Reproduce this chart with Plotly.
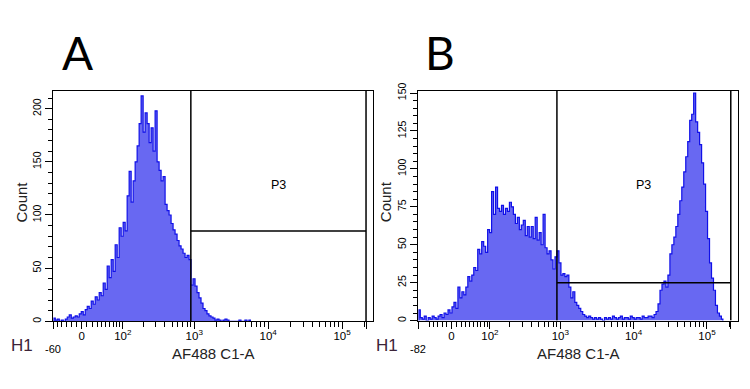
import numpy as np
import plotly.graph_objects as go

# ---------------- data ----------------
# histogram counts per display channel bin (bin width in display units below)
A_COUNTS = [3, 1, 2, 0, 1, 0, 2, 4, 6, 3, 4, 5, 4, 7, 9, 6, 11, 14, 12, 19,
            16, 23, 20, 27, 24, 36, 30, 52, 41, 58, 47, 72, 60, 88, 80, 93, 85, 118, 141, 112,
            132, 150, 165, 186, 212, 178, 196, 186, 168, 182, 160, 198, 150, 142, 132, 136, 110, 104, 100, 92,
            86, 82, 76, 71, 68, 64, 60, 62, 58, 34, 40, 33, 27, 22, 17, 12, 10, 7, 5, 4,
            3, 1, 2, 1, 0, 1, 2, 1, 0, 0, 0, 0, 0, 1, 0, 0, 1, 0, 1]
B_COUNTS = [7, 2, 1, 3, 0, 2, 1, 3, 2, 1, 3, 4, 2, 5, 4, 7, 5, 9, 12, 8,
            22, 15, 19, 17, 22, 29, 26, 30, 35, 33, 47, 44, 52, 49, 45, 60, 58, 85, 70, 88,
            74, 72, 76, 70, 74, 72, 78, 75, 70, 64, 68, 60, 63, 66, 56, 62, 55, 62, 54, 68,
            53, 58, 50, 70, 48, 44, 46, 40, 34, 42, 46, 38, 30, 31, 29, 30, 22, 15, 19, 12,
            10, 8, 6, 4, 3, 2, 3, 2, 1, 2, 1, 2, 1, 0, 2, 1, 2, 1, 3, 2,
            1, 2, 3, 1, 2, 2, 1, 3, 2, 1, 2, 2, 1, 3, 2, 2, 3, 3, 2, 4, 6,
            11, 20, 24, 26, 22, 30, 44, 50, 55, 62, 70, 79, 88, 98, 108, 118, 132, 136, 150, 131,
            124, 116, 104, 90, 72, 54, 38, 28, 20, 10, 5, 3, 1]
BIN_W = 0.027                      # display units per channel bin

X_MIN = {"A": -60, "B": -82}       # lowest displayed intensity
X_MAX = 262143                     # top of scale
GATE_LO = 900                      # P3 interval gate
GATE_HI = 211000
GATE_Y = {"A": 85, "B": 25}        # gate bar height (count)
Y_MAX = {"A": 216.6, "B": 151.3}
Y_MAJOR = {"A": [0, 50, 100, 150, 200], "B": [0, 25, 50, 75, 100, 125, 150]}
Y_MINOR_STEP = {"A": 10, "B": 5}
BIEX_W = {"A": 30, "B": 33}        # biexponential linear-width parameter
X_MAJOR = [0, 100, 1000, 10000, 100000]
X_MAJOR_TEXT = ["0", "10<sup>2</sup>", "10<sup>3</sup>", "10<sup>4</sup>", "10<sup>5</sup>"]
X_LIN_MINOR = [-50, -40, -30, -20, -10, 10, 20, 30, 40, 50, 60, 70, 80, 90]
X_TITLE = "AF488 C1-A"
Y_TITLE = "Count"


def disp(v, c):
    v = np.asarray(v, dtype=float)
    return np.log10(c) + np.arcsinh(v / (2 * c)) / np.log(10)


W, H = 750, 389
def px(x):
    return x / W
def py(y):
    return 1 - y / H

# plot frames in pixels (left, right, top, bottom)
FRAMES = {"A": (53.3, 373.0, 85.0, 320.7), "B": (418.3, 737.7, 85.0, 320.0)}

fig = go.Figure()
FILL = "rgb(104,104,242)"
LINE = "#1010e8"
FONT = "Liberation Sans Narrow, Arial Narrow, Liberation Sans, Arial"

for idx, (key, counts) in enumerate([("A", A_COUNTS), ("B", B_COUNTS)]):
    c = BIEX_W[key]
    lo = float(disp(X_MIN[key], c))
    hi = float(disp(X_MAX, c))
    n = len(counts)
    xs = lo + (np.arange(n) + 0.5) * BIN_W
    xs = np.concatenate([[lo], xs, [xs[-1] + BIN_W / 2]])
    ys = np.concatenate([[0], counts, [0]])
    sfx = "" if idx == 0 else "2"
    fig.add_trace(go.Scatter(x=xs, y=ys, mode="lines", line=dict(color=LINE, width=1.2, shape="hvh"),
                             fill="tozeroy", fillcolor=FILL, xaxis="x" + sfx, yaxis="y" + sfx,
                             showlegend=False, hoverinfo="skip"))
    L, R, T, B = FRAMES[key]
    minor_log = [m * 10 ** k for k in (2, 3, 4) for m in range(2, 10)] + [200000]
    xax = dict(domain=[px(L), px(R)], range=[lo, hi], anchor="y" + sfx,
               showline=True, linecolor="black", linewidth=1.3, mirror=True,
               showgrid=False, zeroline=False, ticks="outside", ticklen=7, tickwidth=1, tickcolor="black",
               tickmode="array",
               tickvals=list(disp([X_MIN[key]] + X_MAJOR + [GATE_HI], c)),
               ticktext=[""] + X_MAJOR_TEXT + [""], ticklabelstandoff=-3,
               tickfont=dict(size=11.5, color="black", family=FONT),
               minor=dict(tickmode="array", tickvals=list(disp(X_LIN_MINOR + minor_log, c)),
                          ticks="outside", ticklen=5, tickcolor="black", tickwidth=1, showgrid=False),
               fixedrange=True)
    ymax = Y_MAX[key]
    yax = dict(domain=[py(B), py(T)], range=[0, ymax], anchor="x" + sfx,
               showline=True, linecolor="black", linewidth=1.3, mirror=True,
               showgrid=False, zeroline=False, ticks="outside", ticklen=7, tickwidth=1, tickcolor="black",
               tickmode="array", tickvals=Y_MAJOR[key], tickangle=-90,
               tickfont=dict(size=10.5, color="black", family=FONT),
               minor=dict(tickmode="array",
                          tickvals=list(np.arange(0, ymax, Y_MINOR_STEP[key])),
                          ticks="outside", ticklen=4, tickcolor="black", tickwidth=1, showgrid=False),
               fixedrange=True)
    fig.update_layout(**{"xaxis" + sfx: xax, "yaxis" + sfx: yax})

    g0 = float(disp(GATE_LO, c))
    g1 = float(disp(GATE_HI, c))
    xr, yr = "x" + sfx, "y" + sfx
    for (x0, y0, x1, y1) in [(g0, 0, g0, ymax), (g1, 0, g1, ymax), (g0, GATE_Y[key], g1, GATE_Y[key])]:
        fig.add_shape(type="line", xref=xr, yref=yr, x0=x0, y0=y0, x1=x1, y1=y1,
                      line=dict(color="black", width=1.5), layer="above")

    # annotations
    cx = (L + R) / 2
    fig.add_annotation(x=px(cx), y=py(354), xref="paper", yref="paper", text=X_TITLE, showarrow=False,
                       font=dict(size=15, color="#222", family=FONT), xanchor="center", yanchor="middle")
    fig.add_annotation(x=px(L - 32), y=py((T + B) / 2 - 4), xref="paper", yref="paper", text=Y_TITLE,
                       textangle=-90, showarrow=False, font=dict(size=15, color="#222", family=FONT),
                       xanchor="center", yanchor="middle")
    fig.add_annotation(x=lo, y=py(349), xref=xr, yref="paper", text=str(X_MIN[key]), showarrow=False,
                       font=dict(size=11, color="black", family=FONT), xanchor="center", yanchor="middle")
    fig.add_annotation(x=px(L - 31), y=py(345), xref="paper", yref="paper", text="H1", showarrow=False,
                       font=dict(size=17, color="#3d2438", family="Liberation Sans, Arial"),
                       xanchor="center", yanchor="middle")
    fig.add_annotation(x=px(L + 24 if key == "A" else L + 22), y=py(46), xref="paper", yref="paper",
                       text=key, showarrow=False, font=dict(size=46, color="black", family="Lato"),
                       xanchor="center", yanchor="middle")
    fig.add_annotation(x=px(278 if key == "A" else 643), y=py(181), xref="paper", yref="paper",
                       text="P3", showarrow=False, font=dict(size=12.5, color="black", family=FONT),
                       xanchor="center", yanchor="middle")

fig.update_layout(width=W, height=H, margin=dict(l=0, r=0, t=0, b=0),
                  paper_bgcolor="white", plot_bgcolor="white")
fig.write_html("out.html", config={"displayModeBar": False},
               post_script="document.body.style.margin='0';document.body.style.overflow='hidden';")
